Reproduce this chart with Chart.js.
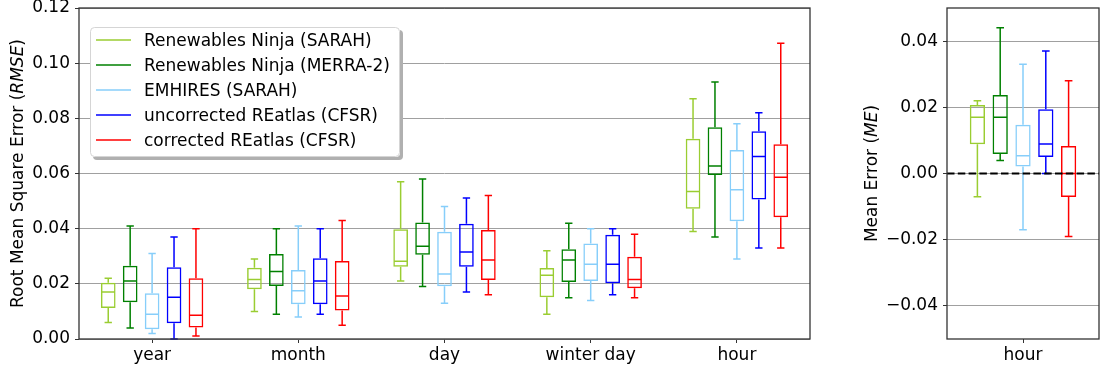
<!DOCTYPE html>
<html><head><meta charset="utf-8">
<script src="https://cdn.jsdelivr.net/npm/chart.js@4.4.0/dist/chart.umd.min.js"></script>
<style>
html,body{margin:0;padding:0;background:#fff;}
#wrap{position:relative;width:1100px;height:371px;overflow:hidden;}
#c1{position:absolute;left:0;top:0;}
#c2{position:absolute;left:840px;top:0;}
</style></head><body>
<div id="wrap"><canvas id="c1" width="830" height="371"></canvas><canvas id="c2" width="260" height="371"></canvas></div>
<script>
// ---------- data ----------
const categories = ['year', 'month', 'day', 'winter day', 'hour'];
const seriesNames = ['Renewables Ninja (SARAH)', 'Renewables Ninja (MERRA-2)', 'EMHIRES (SARAH)', 'uncorrected REatlas (CFSR)', 'corrected REatlas (CFSR)'];
const seriesColors = ['#9ACD32', '#008000', '#87CEFA', '#0000FF', '#FF0000'];
// box stats per category: [low whisker, Q1, median, Q3, high whisker]
const ninjaSarahRMSE  = [[0.006,0.0112,0.017,0.0204,0.022],[0.010,0.018,0.0216,0.0258,0.029],[0.021,0.0262,0.0282,0.0398,0.057],[0.009,0.0151,0.0231,0.0257,0.032],[0.039,0.0472,0.0535,0.0726,0.0871]];
const ninjaMerraRMSE  = [[0.004,0.0133,0.021,0.0266,0.041],[0.009,0.0192,0.0245,0.0308,0.040],[0.019,0.0305,0.0336,0.0422,0.058],[0.015,0.0207,0.0286,0.0325,0.042],[0.037,0.0595,0.0627,0.0768,0.0932]];
const emhiresRMSE     = [[0.002,0.0035,0.009,0.0166,0.031],[0.008,0.0126,0.0175,0.025,0.041],[0.013,0.0191,0.0236,0.0389,0.048],[0.014,0.021,0.0271,0.0346,0.040],[0.029,0.0427,0.0541,0.0685,0.078]];
const uncorrRMSE      = [[0.000,0.0057,0.0151,0.026,0.037],[0.009,0.0126,0.021,0.0293,0.040],[0.017,0.0262,0.0315,0.0418,0.0511],[0.016,0.0202,0.0271,0.0378,0.040],[0.033,0.0506,0.0662,0.0753,0.082]];
const corrRMSE        = [[0.0011,0.0042,0.0086,0.022,0.040],[0.005,0.0103,0.0156,0.0283,0.043],[0.016,0.0214,0.0286,0.0395,0.052],[0.015,0.0184,0.0216,0.0298,0.038],[0.033,0.0441,0.0586,0.0706,0.1072]];
const rmseTicks = [0.00, 0.02, 0.04, 0.06, 0.08, 0.10, 0.12];

const meCategories = ['hour'];
const ninjaSarahME = [[-0.007,0.0088,0.017,0.0207,0.022]];
const ninjaMerraME = [[0.0039,0.0059,0.017,0.0237,0.044]];
const emhiresME    = [[-0.017,0.0021,0.0054,0.0147,0.033]];
const uncorrME     = [[0.000,0.005,0.0089,0.0194,0.037]];
const corrME       = [[-0.019,-0.0071,0.000,0.0083,0.028]];
const meTicks = [-0.04, -0.02, 0.00, 0.02, 0.04];

// ---------- helpers ----------
const FONT = '"DejaVu Sans", "Liberation Sans", sans-serif';
const FS = 17;
const fmt = v => (v < 0 ? '\u2212' : '') + Math.abs(v).toFixed(2);

function makeDatasets(statsList) {
  return statsList.map((stats, k) => ({
    label: seriesNames[k],
    data: stats.map(s => [s[1], s[3]]),
    stats: stats,
    backgroundColor: 'rgba(0,0,0,0)',
    borderColor: seriesColors[k],
    borderWidth: 1.5,
    borderSkipped: false,
    categoryPercentage: 0.75,
    barPercentage: 0.67
  }));
}

const boxPlugin = {
  id: 'boxWhiskers',
  afterDatasetsDraw(chart) {
    const ctx = chart.ctx, ys = chart.scales.y;
    chart.data.datasets.forEach((ds, di) => {
      const meta = chart.getDatasetMeta(di);
      meta.data.forEach((el, i) => {
        const [lo, q1, med, q3, hi] = ds.stats[i];
        const x = el.x, w = el.width;
        ctx.save();
        ctx.strokeStyle = ds.borderColor;
        ctx.lineWidth = 1.5;
        ctx.beginPath();
        ctx.moveTo(x, ys.getPixelForValue(q3)); ctx.lineTo(x, ys.getPixelForValue(hi));
        ctx.moveTo(x, ys.getPixelForValue(q1)); ctx.lineTo(x, ys.getPixelForValue(lo));
        ctx.moveTo(x - w / 4, ys.getPixelForValue(hi)); ctx.lineTo(x + w / 4, ys.getPixelForValue(hi));
        ctx.moveTo(x - w / 4, ys.getPixelForValue(lo)); ctx.lineTo(x + w / 4, ys.getPixelForValue(lo));
        ctx.moveTo(x - w / 2 + 0.75, ys.getPixelForValue(med)); ctx.lineTo(x + w / 2 - 0.75, ys.getPixelForValue(med));
        ctx.stroke();
        ctx.restore();
      });
    });
  }
};

const framePlugin = {
  id: 'frame',
  afterDraw(chart, args, opts) {
    const ctx = chart.ctx, a = chart.chartArea;
    ctx.save();
    ctx.strokeStyle = '#333';
    ctx.lineWidth = 1.3;
    ctx.strokeRect(a.left, a.top, a.right - a.left, a.bottom - a.top);
    ctx.restore();
    if (opts && opts.parts) {
      const cy = (a.top + a.bottom) / 2;
      ctx.save();
      ctx.translate(opts.x, cy);
      ctx.rotate(-Math.PI / 2);
      let total = 0;
      opts.parts.forEach(p => { ctx.font = (p.italic ? 'italic ' : '') + FS + 'px ' + FONT; p.w = ctx.measureText(p.text).width; total += p.w; });
      let x = -total / 2;
      ctx.fillStyle = '#000';
      ctx.textBaseline = 'alphabetic';
      opts.parts.forEach(p => { ctx.font = (p.italic ? 'italic ' : '') + FS + 'px ' + FONT; ctx.fillText(p.text, x, 0); x += p.w; });
      ctx.restore();
    }
  }
};

const legendPlugin = {
  id: 'mplLegend',
  afterDraw(chart) {
    const ctx = chart.ctx;
    const lx = 90, ly = 27, lw = 310, lh = 130, r = 4;
    const rr = (x, y, w, h) => { ctx.beginPath(); ctx.roundRect(x, y, w, h, r); };
    ctx.save();
    ctx.fillStyle = '#b0b0b0';
    rr(lx + 3, ly + 3, lw, lh); ctx.fill();
    ctx.fillStyle = '#fff';
    rr(lx, ly, lw, lh); ctx.fill();
    ctx.strokeStyle = '#d5d5d5'; ctx.lineWidth = 1;
    rr(lx + 0.5, ly + 0.5, lw - 1, lh - 1); ctx.stroke();
    ctx.font = FS + 'px ' + FONT;
    ctx.textBaseline = 'alphabetic';
    chart.data.datasets.forEach((ds, i) => {
      const y = ly + 13 + 25 * i;
      ctx.strokeStyle = ds.borderColor; ctx.lineWidth = 1.5;
      ctx.beginPath(); ctx.moveTo(96, y); ctx.lineTo(131, y); ctx.stroke();
      ctx.fillStyle = '#000';
      ctx.fillText(ds.label, 144, y + 6.3);
    });
    ctx.restore();
  }
};

const zeroPlugin = {
  id: 'zeroLine',
  afterDatasetsDraw(chart) {
    const ctx = chart.ctx, a = chart.chartArea, y = chart.scales.y.getPixelForValue(0);
    ctx.save();
    ctx.strokeStyle = '#000'; ctx.lineWidth = 2.2; ctx.setLineDash([7.5, 3.3]);
    ctx.beginPath(); ctx.moveTo(a.left, y); ctx.lineTo(a.right, y); ctx.stroke();
    ctx.restore();
  }
};

function scalesFor(yMin, yMax, ticks, yWidth) {
  return {
    x: {
      type: 'category', offset: true,
      grid: { display: true, offset: false, drawOnChartArea: false, drawTicks: true, tickLength: 4, tickColor: '#333', tickWidth: 1 },
      border: { display: false },
      ticks: { font: { family: FONT, size: FS, lineHeight: 1.2 }, color: '#000', padding: 2, maxRotation: 0, autoSkip: false },
      afterFit: s => { s.height = 32; s.paddingLeft = 0; s.paddingRight = 0; }
    },
    y: {
      type: 'linear', min: yMin, max: yMax,
      afterBuildTicks: s => { s.ticks = ticks.map(v => ({ value: v })); },
      grid: { color: '#a0a0a0', lineWidth: 1, drawTicks: true, tickLength: 4, tickColor: '#333', tickWidth: 1 },
      border: { display: false },
      ticks: { font: { family: FONT, size: FS, lineHeight: 1 }, color: '#000', padding: 5, callback: v => fmt(v) },
      afterFit: s => { s.width = yWidth; s.paddingTop = 0; s.paddingBottom = 0; }
    }
  };
}

const common = {
  responsive: false, animation: false, devicePixelRatio: 1, events: [],
  plugins: { legend: { display: false }, tooltip: { enabled: false } }
};

new Chart(document.getElementById('c1'), {
  type: 'bar',
  data: { labels: categories, datasets: makeDatasets([ninjaSarahRMSE, ninjaMerraRMSE, emhiresRMSE, uncorrRMSE, corrRMSE]) },
  options: Object.assign({}, common, {
    layout: { padding: { left: 0, right: 20, top: 8, bottom: 0 } },
    scales: scalesFor(0, 0.12, rmseTicks, 79),
    plugins: Object.assign({}, common.plugins, {
      frame: { x: 22.8, parts: [{ text: 'Root Mean Square Error (' }, { text: 'RMSE', italic: true }, { text: ')' }] }
    })
  }),
  plugins: [boxPlugin, framePlugin, legendPlugin]
});

new Chart(document.getElementById('c2'), {
  type: 'bar',
  data: { labels: meCategories, datasets: makeDatasets([ninjaSarahME, ninjaMerraME, emhiresME, uncorrME, corrME]) },
  options: Object.assign({}, common, {
    layout: { padding: { left: 0, right: 1, top: 8, bottom: 0 } },
    scales: scalesFor(-0.05, 0.05, meTicks, 107),
    plugins: Object.assign({}, common.plugins, {
      frame: { x: 37, parts: [{ text: 'Mean Error (' }, { text: 'ME', italic: true }, { text: ')' }] }
    })
  }),
  plugins: [boxPlugin, zeroPlugin, framePlugin]
});
</script>
</body></html>
